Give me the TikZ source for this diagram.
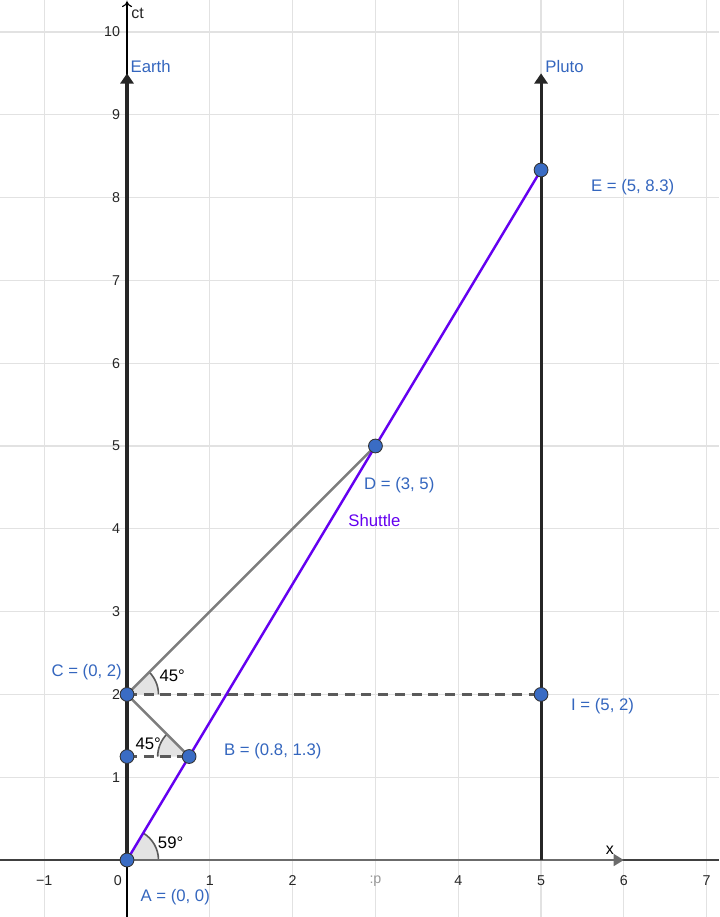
\documentclass[tikz,border=0pt]{standalone}
\usepackage{fontspec}
\setmainfont{Liberation Sans}
\usetikzlibrary{arrows.meta,angles}
\definecolor{gridc}{RGB}{226,226,226}
\definecolor{lblue}{RGB}{52,102,190}
\definecolor{pblue}{RGB}{58,108,196}
\definecolor{shut}{RGB}{100,0,240}
\definecolor{grayl}{RGB}{125,125,125}
\definecolor{dgray}{RGB}{90,90,90}
\tikzset{
  gridline/.style={gridc, line width=0.8pt},
  ticklbl/.style={font=\fontsize{9.8}{11}\selectfont, text=black!85, inner sep=0pt},
  lbl/.style={font=\fontsize{11.5}{13}\selectfont, text=lblue, inner sep=0pt, anchor=west},
  anglbl/.style={font=\fontsize{11.5}{13}\selectfont, text=black, inner sep=0pt, anchor=west},
  worldline/.style={black!85, line width=2.1pt, -{Triangle[length=7pt,width=9pt]}},
  greyline/.style={grayl, line width=1.7pt},
  dashline/.style={dgray, line width=1.7pt, dash pattern=on 7pt off 4.5pt},
  shuttle/.style={shut, line width=1.7pt},
  pt/.style={circle, fill=pblue, draw=black!80, line width=0.6pt, minimum size=9.5pt, inner sep=0pt},
  angmark/.style={draw=dgray, line width=1.1pt, fill=gray!22, angle radius=0.76cm}
}
\begin{document}
\begin{tikzpicture}[x=2cm,y=2cm]
\useasboundingbox (-1.534,-0.688) rectangle (7.150,10.386);
% grid
\foreach \i in {-1,...,7} \draw[gridline] (\i,-0.688) -- (\i,10.386);
\foreach \j in {1,...,10} \draw[gridline] (-1.534,\j) -- (7.150,\j);
% axes
\draw[black!75, line width=0.8pt] (-1.534,0) -- (7.150,0);
\draw[black, line width=0.8pt, -{To[length=4pt,width=7pt]}] (0,-0.688) -- (0,10.37);
\node[ticklbl, anchor=west, font=\fontsize{11}{13}\selectfont] (ctl) at (0.05,10.22) {ct};
% tick labels
\foreach \i/\t in {-1/−1,1/1,2/2,4/4,5/5,6/6,7/7} \node[ticklbl] (tx\i) at (\i,-0.25) {\t};
\node[ticklbl] (tx0) at (-0.11,-0.25) {0};
\node[ticklbl, text=black!40] (tx3) at (3,-0.25) {:p};
\foreach \j in {1,...,10} \node[ticklbl, anchor=east] (ty\j) at (-0.08,\j) {\j};
% coordinates
\coordinate (A) at (0,0);
\coordinate (B) at (0.75,1.25);
\coordinate (C) at (0,2);
\coordinate (D) at (3,5);
\coordinate (E) at (5,8.3333);
\coordinate (I) at (5,2);
\coordinate (F) at (0,1.25);
\coordinate (X) at (6,0);
\coordinate (ET) at (0,9.5);
\coordinate (PB) at (5,0);
\coordinate (PT) at (5,9.5);
% angle markers
\pic[angmark] {angle = X--A--E};
\pic[angmark] {angle = I--C--D};
\pic[angmark] {angle = C--B--F};
% x vector
\draw[dgray!90, line width=1.9pt, -{Triangle[length=7pt,width=8pt]}] (A) -- (X);
\node[anchor=west, font=\fontsize{11}{13}\selectfont, inner sep=0pt] (xl) at (5.78,0.12) {x};
% world lines
\draw[worldline] (A) -- (ET);
\draw[worldline] (PB) -- (PT);
\node[lbl] (earth) at (0.04,9.58) {Earth};
\node[lbl] (pluto) at (5.05,9.58) {Pluto};
% gray lines
\draw[greyline] (C) -- (D);
\draw[greyline] (C) -- (B);
\draw[dashline] (C) -- (I);
\draw[dashline] (F) -- (B);
% shuttle
\draw[shuttle] (A) -- (E);
\node[anchor=west, font=\fontsize{11.5}{13}\selectfont, text=shut, inner sep=0pt] (shl) at (2.67,4.1) {Shuttle};
% points
\foreach \p in {A,B,C,D,E,I,F} \node[pt] at (\p) {};
% labels
\node[lbl] (la) at (0.16,-0.45) {A = (0, 0)};
\node[lbl] (lb) at (1.17,1.32) {B = (0.8, 1.3)};
\node[lbl, anchor=east] (lc) at (-0.06,2.27) {C = (0, 2)};
\node[lbl] (ld) at (2.86,4.53) {D = (3, 5)};
\node[lbl] (le) at (5.6,8.13) {E = (5, 8.3)};
\node[lbl] (li) at (5.36,1.86) {I = (5, 2)};
\node[anglbl] (a59) at (0.37,0.21) {59°};
\node[anglbl] (a45c) at (0.39,2.22) {45°};
\node[anglbl] (a45b) at (0.1,1.41) {45°};
\end{tikzpicture}
\end{document}
